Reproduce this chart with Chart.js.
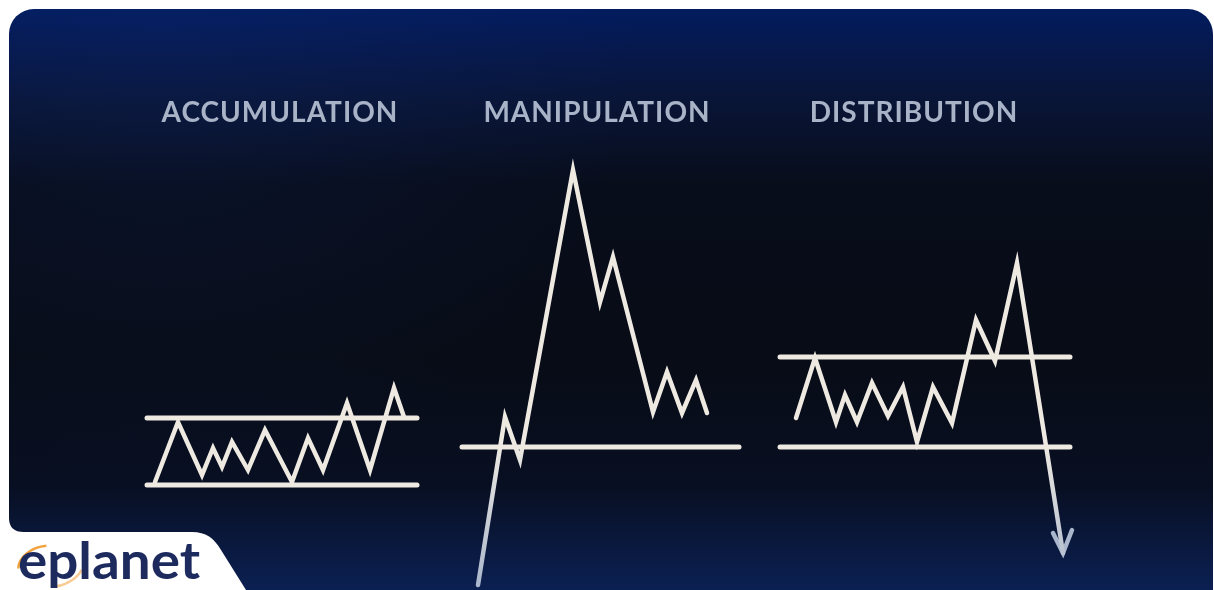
<!DOCTYPE html>
<html>
<head>
  <title>Accumulation / Manipulation / Distribution</title>
  <script src="https://cdn.jsdelivr.net/npm/chart.js"></script>
  <style>
    html, body { margin: 0; padding: 0; background: #ffffff; overflow: hidden; }
    #wrap { width: 1214px; height: 590px; }
  </style>
</head>
<body>
  <div id="wrap"><canvas id="amdChart" width="1214" height="590"></canvas></div>

  <script>
    // Phase names and the time value each one is centred on
    const phaseLabels = ['ACCUMULATION', 'MANIPULATION', 'DISTRIBUTION'];
    const phaseCenters = [280, 597, 914];
    const titleLevel = 477; // price level the phase names sit at

    // Price paths as [time, price]
    const accumulationPrice = [
      [155, 108], [178, 168], [202, 115], [213, 142], [222, 123], [232, 148],
      [248, 120], [265, 160], [292, 108], [308, 152], [323, 120], [347, 187],
      [370, 120], [394, 202], [404, 173]
    ];
    const accumulationHigh = [[147, 172], [417, 172]];
    const accumulationLow = [[147, 105], [417, 105]];

    const manipulationPrice = [
      [478, 5], [505, 173], [520, 130], [573, 420], [600, 288], [613, 333],
      [653, 178], [667, 218], [682, 177], [696, 210], [707, 177]
    ];
    const manipulationLevel = [[462, 143], [739, 143]];

    const distributionPrice = [
      [796, 172], [815, 232], [836, 168], [845, 195], [857, 168], [872, 207],
      [888, 174], [903, 203], [917, 148], [933, 203], [952, 167], [976, 270],
      [995, 229], [1017, 327], [1063, 37]
    ];
    const distributionArrow = [[1053, 57], [1063, 37], [1072, 60]];
    const distributionHigh = [[780, 233], [1070, 233]];
    const distributionLow = [[780, 143], [1070, 143]];

    const lineColor = '#eeeae2';

    // line that fades to a cool grey towards the bottom of the card
    function fadingLine(context) {
      const { ctx, chartArea } = context.chart;
      if (!chartArea) return lineColor;
      const g = ctx.createLinearGradient(0, 440, 0, chartArea.bottom);
      g.addColorStop(0, lineColor);
      g.addColorStop(1, '#a9b6cc');
      return g;
    }

    function toPoints(arr) {
      return arr.map(p => ({ x: p[0], y: p[1] }));
    }

    function series(arr, color, width) {
      return {
        data: toPoints(arr),
        showLine: true,
        borderColor: color,
        borderWidth: width,
        pointRadius: 0,
        pointHoverRadius: 0,
        borderJoinStyle: 'miter',
        borderCapStyle: 'round',
        tension: 0,
        fill: false
      };
    }

    // dark card, white corner with the logo, phase names
    const backdrop = {
      id: 'backdrop',
      beforeDraw(chart) {
        const ctx = chart.ctx;
        const w = chart.width, h = chart.height;
        ctx.save();
        ctx.fillStyle = '#ffffff';
        ctx.fillRect(0, 0, w, h);

        const g = ctx.createLinearGradient(0, 9, 0, h);
        g.addColorStop(0, '#021c5e');
        g.addColorStop(0.06, '#06194f');
        g.addColorStop(0.16, '#091536');
        g.addColorStop(0.3, '#080d1b');
        g.addColorStop(0.6, '#080c16');
        g.addColorStop(0.82, '#080f22');
        g.addColorStop(0.94, '#0a1a42');
        g.addColorStop(1, '#0b2052');
        ctx.fillStyle = g;
        ctx.beginPath();
        ctx.roundRect(9, 9, 1204, 620, 25);
        ctx.fill();

        // faint blue haze in the top-left
        const r = ctx.createRadialGradient(160, 20, 10, 160, 20, 480);
        r.addColorStop(0, 'rgba(20,50,130,0.16)');
        r.addColorStop(1, 'rgba(20,50,130,0)');
        ctx.fillStyle = r;
        ctx.beginPath();
        ctx.roundRect(9, 9, 1204, 620, 25);
        ctx.fill();

        // white cut-out in the bottom-left corner
        ctx.fillStyle = '#ffffff';
        ctx.beginPath();
        ctx.moveTo(0, 500);
        ctx.lineTo(9, 500);
        ctx.lineTo(9, 518);
        ctx.quadraticCurveTo(9, 532, 24, 532);
        ctx.lineTo(192, 532);
        ctx.bezierCurveTo(206, 532, 214, 538, 221, 550);
        ctx.lineTo(246, 590);
        ctx.lineTo(0, 590);
        ctx.closePath();
        ctx.fill();

        // logo
        ctx.strokeStyle = '#f2a23c';
        ctx.lineWidth = 2.5;
        ctx.beginPath();
        ctx.ellipse(46, 566, 28, 20, -0.2, Math.PI * 1.05, Math.PI * 1.55);
        ctx.stroke();
        ctx.strokeStyle = 'rgba(242,162,60,0.55)';
        ctx.beginPath();
        ctx.ellipse(52, 566, 32, 21, -0.2, Math.PI * 0.15, Math.PI * 0.5);
        ctx.stroke();
        ctx.fillStyle = '#1c2a5e';
        ctx.font = 'bold 52px Lato';
        ctx.textBaseline = 'alphabetic';
        ctx.textAlign = 'left';
        const lw = ctx.measureText('eplanet').width;
        ctx.save();
        ctx.translate(18, 579);
        ctx.scale(182 / lw, 1);
        ctx.fillText('eplanet', 0, 0);
        ctx.restore();

        // phase names
        const xs = chart.scales.x, ys = chart.scales.y;
        ctx.fillStyle = '#a9b3c8';
        ctx.font = 'bold 28px Lato';
        ctx.letterSpacing = '1px';
        ctx.textAlign = 'center';
        ctx.textBaseline = 'middle';
        phaseLabels.forEach((label, i) => {
          ctx.fillText(label, xs.getPixelForValue(phaseCenters[i]), ys.getPixelForValue(titleLevel));
        });
        ctx.restore();
      }
    };

    new Chart(document.getElementById('amdChart'), {
      type: 'scatter',
      data: {
        datasets: [
          series(accumulationHigh, lineColor, 5),
          series(accumulationLow, lineColor, 5),
          series(accumulationPrice, lineColor, 4.5),
          series(manipulationLevel, lineColor, 5),
          series(manipulationPrice, fadingLine, 4.5),
          series(distributionHigh, lineColor, 5),
          series(distributionLow, lineColor, 5),
          series(distributionPrice, fadingLine, 4.5),
          series(distributionArrow, '#a9b6cc', 4.5)
        ]
      },
      options: {
        responsive: false,
        animation: false,
        devicePixelRatio: 1,
        layout: { padding: 0 },
        events: [],
        scales: {
          x: { type: 'linear', min: 0, max: 1214, display: false },
          y: { type: 'linear', min: 0, max: 590, display: false }
        },
        plugins: {
          legend: { display: false },
          tooltip: { enabled: false },
          title: { display: false }
        }
      },
      plugins: [backdrop]
    });
  </script>
</body>
</html>
